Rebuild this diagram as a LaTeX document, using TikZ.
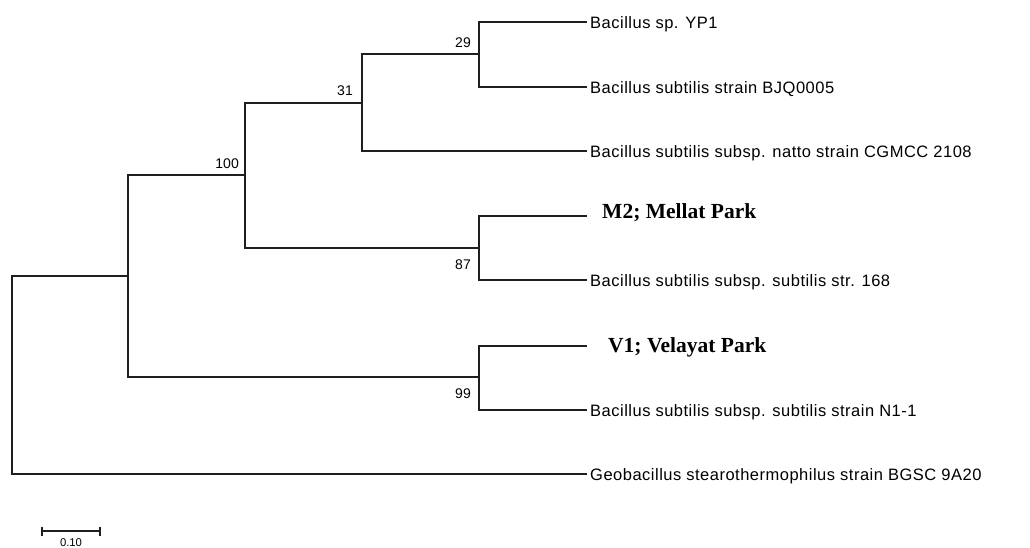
\documentclass[tikz,border=0pt]{standalone}
\usepackage{fontspec}
\setmainfont{Liberation Serif}
\setsansfont{Liberation Sans}
\usetikzlibrary{calc}
\newcommand{\leaffont}{\fontsize{16.5}{18}\sffamily\addfontfeature{LetterSpace=3}}
\newcommand{\supfont}{\fontsize{14}{16}\sffamily}
\newcommand{\isofont}{\fontsize{21.5}{24}\rmfamily\bfseries}
\begin{document}
\begin{tikzpicture}[x=1pt,y=-1pt,
  branch/.style={line width=1.8pt, draw=black!88, line cap=rect},
  leaf/.style={anchor=base west, inner sep=0pt, font=\leaffont},
  iso/.style={anchor=base west, inner sep=0pt, font=\isofont},
  sup/.style={anchor=base east, inner sep=0pt, font=\supfont},
  scalebar/.style={line width=1.4pt, draw=black!88}]
\useasboundingbox (0,0) rectangle (1030,547);

% internal nodes (x = depth, y = where the branch from the parent joins)
\coordinate (R) at (12,375);
\coordinate (A) at (128,276);
\coordinate (B) at (245,175);
\coordinate (C) at (362,103);
\coordinate (D) at (479,54);
\coordinate (E) at (479,248);
\coordinate (F) at (479,377);

% leaf tips
\coordinate (t1) at (586,22);
\coordinate (t2) at (586,87);
\coordinate (t3) at (586,151);
\coordinate (t4) at (586,216);
\coordinate (t5) at (586,280);
\coordinate (t6) at (586,346);
\coordinate (t7) at (586,410);
\coordinate (t8) at (586,474);

% branches
\draw[branch] (R) |- (A);
\draw[branch] (R) |- (t8);
\draw[branch] (A) |- (B);
\draw[branch] (A) |- (F);
\draw[branch] (B) |- (C);
\draw[branch] (B) |- (E);
\draw[branch] (C) |- (D);
\draw[branch] (C) |- (t3);
\draw[branch] (D) |- (t1);
\draw[branch] (D) |- (t2);
\draw[branch] (E) |- (t4);
\draw[branch] (E) |- (t5);
\draw[branch] (F) |- (t6);
\draw[branch] (F) |- (t7);

% taxa
\node[leaf] (n1) at ($(t1)+(4,6)$) {Bacillus sp. YP1};
\node[leaf] (n2) at ($(t2)+(4,6)$) {Bacillus subtilis strain BJQ0005};
\node[leaf] (n3) at ($(t3)+(4,6)$) {Bacillus subtilis subsp. natto strain CGMCC 2108};
\node[iso]  (n4) at ($(t4)+(16,2.5)$) {M2; Mellat Park};
\node[leaf] (n5) at ($(t5)+(4,6)$) {Bacillus subtilis subsp. subtilis str. 168};
\node[iso]  (n6) at ($(t6)+(22,6)$) {V1; Velayat Park};
\node[leaf] (n7) at ($(t7)+(4,6)$) {Bacillus subtilis subsp. subtilis strain N1-1};
\node[leaf] (n8) at ($(t8)+(4,6)$) {Geobacillus stearothermophilus strain BGSC 9A20};

% bootstrap values
\node[sup] (bB) at ($(B)+(-6,-7)$) {100};
\node[sup] (bC) at ($(C)+(-9,-8)$) {31};
\node[sup] (bD) at ($(D)+(-8,-7)$) {29};
\node[sup] (bE) at ($(E)+(-8,21)$) {87};
\node[sup] (bF) at ($(F)+(-8,21)$) {99};

% scale bar
\coordinate (s1) at (42,531);
\coordinate (s2) at (100,531);
\draw[scalebar] (s1) -- (s2);
\draw[scalebar] ($(s1)+(0,-4.5)$) -- ($(s1)+(0,4.5)$);
\draw[scalebar] ($(s2)+(0,-4.5)$) -- ($(s2)+(0,4.5)$);
\node[anchor=base, inner sep=0pt, font=\fontsize{11.3}{12}\sffamily] (sl) at ($(s1)!0.5!(s2)+(0,15.5)$) {0.10};
\end{tikzpicture}
\end{document}
